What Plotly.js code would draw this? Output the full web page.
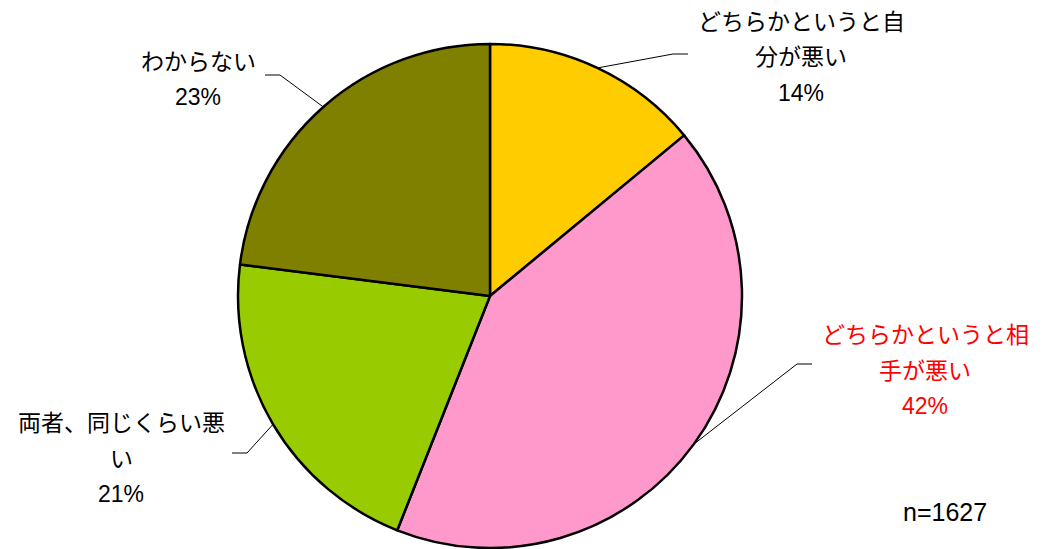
<!DOCTYPE html>
<html>
<head>
<meta charset="utf-8">
<script src="https://cdn.plot.ly/plotly-3.0.1.min.js"></script>
<style>html,body{margin:0;padding:0;background:#fff;}#chart{width:1042px;height:549px;}</style>
</head>
<body>
<div id="chart"></div>
<script>
const categories = ["どちらかというと自分が悪い", "どちらかというと相手が悪い", "両者、同じくらい悪い", "わからない"];
const values = [14, 42, 21, 23];
const colors = ["#FFCC00", "#FF99CC", "#99CC00", "#808000"];
const labelLines = [["どちらかというと自", "分が悪い"], ["どちらかというと相", "手が悪い"], ["両者、同じくらい悪", "い"], ["わからない"]];
const labelColors = ["#000000", "#FF0000", "#000000", "#000000"];
const sampleNote = "n=1627";

const W = 1042, H = 549;
const cx = 490, cy = 296, R = 252;
// label placement (pixels): line-center x, first line y, and leader elbow/end
const labelPos = [
  {x: 801, y: 22, elbow: [673, 54], end: [688, 54]},
  {x: 925, y: 335, elbow: [797, 364], end: [812, 364]},
  {x: 121, y: 423, elbow: [247, 453], end: [232, 453]},
  {x: 198, y: 62, elbow: [280, 75], end: [265, 75]}
];
const lineGap = 35.5;
const font = "Liberation Sans, Arial, 'Noto Sans CJK JP', sans-serif";
const px = x => x / W, py = y => 1 - y / H;

const total = values.reduce((a, b) => a + b, 0);
const annotations = [], shapes = [];
let cum = 0;
values.forEach((v, i) => {
  const mid = (cum + v / 2) / total * 2 * Math.PI;
  cum += v;
  const sx = cx + R * Math.sin(mid), sy = cy - R * Math.cos(mid);
  const L = labelPos[i];
  shapes.push({type: 'path', xref: 'paper', yref: 'paper',
    path: `M ${px(sx)} ${py(sy)} L ${px(L.elbow[0])} ${py(L.elbow[1])} L ${px(L.end[0])} ${py(L.end[1])}`,
    line: {color: '#000', width: 1}});
  const lines = labelLines[i].concat([Math.round(v / total * 100) + "%"]);
  lines.forEach((t, j) => {
    annotations.push({xref: 'paper', yref: 'paper', x: px(L.x), y: py(L.y + j * lineGap),
      xanchor: 'center', yanchor: 'middle', text: t, showarrow: false,
      font: {family: font, size: 23, color: labelColors[i]}});
  });
});
annotations.push({xref: 'paper', yref: 'paper', x: px(945), y: py(512), xanchor: 'center', yanchor: 'middle',
  text: sampleNote, showarrow: false, font: {family: font, size: 25, color: '#000'}});

const data = [{
  type: 'pie', labels: categories, values: values, sort: false, direction: 'clockwise', rotation: 0,
  marker: {colors: colors, line: {color: '#000', width: 2.5}},
  textinfo: 'none', hoverinfo: 'label+percent',
  domain: {x: [px(cx - R), px(cx + R)], y: [py(cy + R), py(cy - R)]}
}];
const layout = {width: W, height: H, margin: {l: 0, r: 0, t: 0, b: 0}, showlegend: false,
  paper_bgcolor: '#fff', annotations: annotations, shapes: shapes};
Plotly.newPlot('chart', data, layout, {staticPlot: true});
</script>
</body>
</html>
